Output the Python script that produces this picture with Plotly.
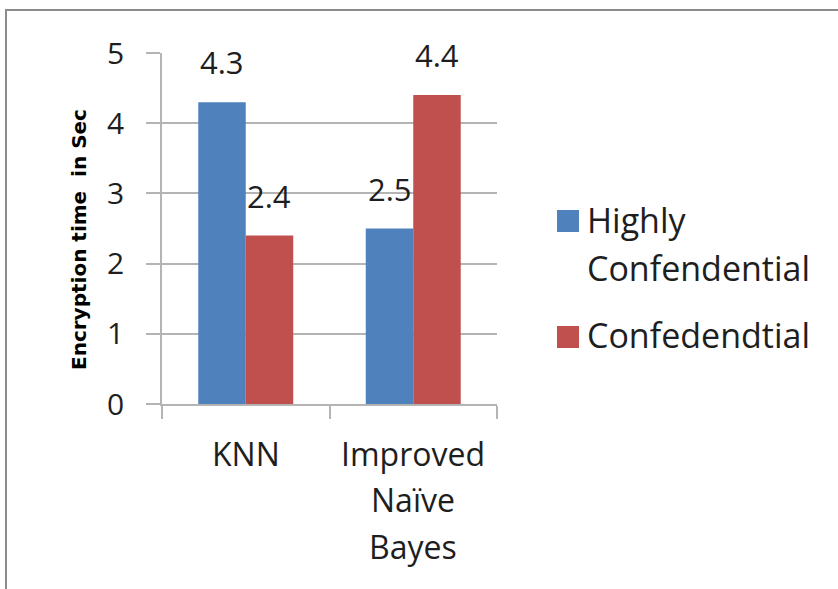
import plotly.graph_objects as go

# Chart data
categories = ["KNN", "Improved Naïve Bayes"]
category_lines = [["KNN"], ["Improved", "Naïve", "Bayes"]]
series_names = ["Highly Confendential", "Confedendtial"]
legend_lines = [["Highly", "Confendential"], ["Confedendtial"]]
highly_confidential = [4.3, 2.5]
confidential = [2.4, 4.4]
y_ticks = [0, 1, 2, 3, 4, 5]
y_title = "Encryption time  in Sec"

BLUE = "#4f81bd"
RED = "#c0504d"
GRID = "#b4b4b4"
TEXT = "#1e1e1e"
FONT = "Open Sans, sans-serif"

W, H = 838, 589
L, R, T, B = 162, 341, 53, 185
PW, PH = W - L - R, H - T - B


def px_x(px):
    return (px - L) / PW


def px_y(py):
    return (H - B - py) / PH


fig = go.Figure()
series = [highly_confidential, confidential]
colors = [BLUE, RED]
for name, vals, col in zip(series_names, series, colors):
    fig.add_trace(go.Bar(
        name=name, x=categories, y=vals,
        marker=dict(color=col, line=dict(width=0)),
        showlegend=False,
    ))

# value labels above each bar
bar_px = PW / len(categories) * (1 - 0.433) / 2
annotations = []
for k, vals in enumerate(series):
    shift = (k - 0.5) * bar_px
    for cat, v in zip(categories, vals):
        annotations.append(dict(
            x=cat, y=v, xref="x", yref="y", text=f"{v:.1f}",
            showarrow=False, xshift=shift, yshift=40,
            xanchor="center", yanchor="middle",
            font=dict(family=FONT, size=31, color=TEXT),
        ))

# category labels, one line each
for cat, lines in zip(categories, category_lines):
    for i, line in enumerate(lines):
        annotations.append(dict(
            x=cat, y=0, xref="x", yref="y", text=line,
            showarrow=False, yshift=-(49 + i * 46.5),
            xanchor="center", yanchor="middle",
            font=dict(family=FONT, size=32, color=TEXT),
        ))

# legend
shapes = []
legend_rows = [(221, [220, 268]), (337, [335])]
for col, lines, (sq_c, text_cs) in zip(colors, legend_lines, legend_rows):
    shapes.append(dict(
        type="rect", xref="paper", yref="paper",
        x0=px_x(557), x1=px_x(579), y0=px_y(sq_c + 11), y1=px_y(sq_c - 11),
        fillcolor=col, line=dict(width=0),
    ))
    for line, tc in zip(lines, text_cs):
        annotations.append(dict(
            x=px_x(585), y=px_y(tc), xref="paper", yref="paper", text=line,
            showarrow=False, xanchor="left", yanchor="middle",
            font=dict(family=FONT, size=34, color=TEXT),
        ))

# y-axis title
annotations.append(dict(
    x=px_x(79), y=px_y(240), xref="paper", yref="paper",
    text=f"<b>{y_title}</b>", textangle=-90, showarrow=False,
    xanchor="center", yanchor="middle",
    font=dict(family="DejaVu Sans, sans-serif", size=20, color="#000000"),
))

# outer frame (top and left edges)
frame = dict(color="#8c8c8c", width=2)
shapes.append(dict(type="line", xref="paper", yref="paper",
                   x0=px_x(5), x1=px_x(W + 5), y0=px_y(10), y1=px_y(10), line=frame))
shapes.append(dict(type="line", xref="paper", yref="paper",
                   x0=px_x(6), x1=px_x(6), y0=px_y(10), y1=px_y(H + 5), line=frame))

fig.update_layout(
    width=W, height=H,
    margin=dict(l=L, r=R, t=T, b=B, pad=0),
    paper_bgcolor="white", plot_bgcolor="white",
    barmode="group", bargap=0.433, bargroupgap=0,
    showlegend=False,
    font=dict(family=FONT, color=TEXT),
    annotations=annotations, shapes=shapes,
)
fig.update_xaxes(
    type="category", showticklabels=False,
    showline=True, linecolor=GRID, linewidth=1.5,
    ticks="outside", tickson="boundaries", ticklen=13,
    tickcolor=GRID, tickwidth=1.5, showgrid=False,
)
fig.update_yaxes(
    range=[0, 5], tickvals=y_ticks,
    showline=True, linecolor=GRID, linewidth=1.5,
    ticks="outside", ticklen=14, tickcolor=GRID, tickwidth=1.5,
    showgrid=True, gridcolor=GRID, gridwidth=1.5, zeroline=False,
    tickfont=dict(family=FONT, size=30, color=TEXT),
    ticklabelstandoff=16,
)

fig.write_html("out.html")
